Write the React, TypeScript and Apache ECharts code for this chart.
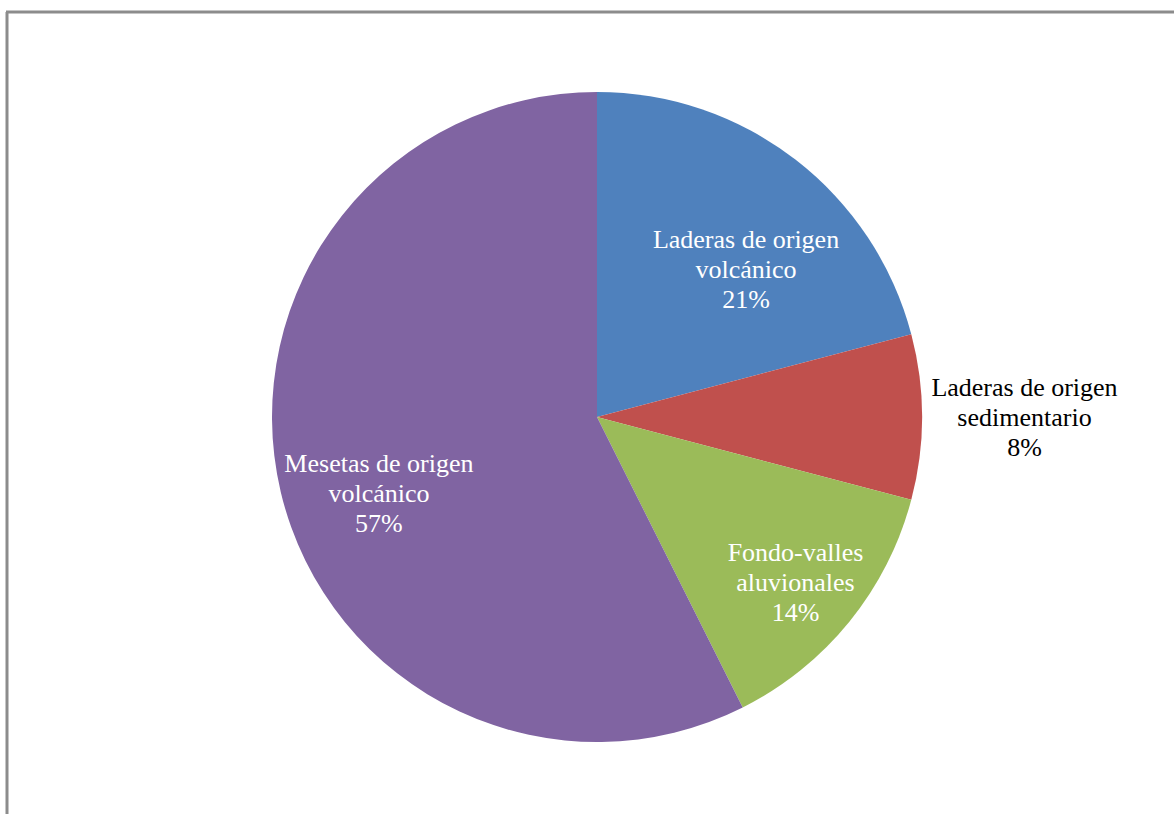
import React, { useEffect, useRef } from "react";
import * as echarts from "echarts";

const categories = [
  "Laderas de origen\nvolcánico",
  "Laderas de origen\nsedimentario",
  "Fondo-valles\naluvionales",
  "Mesetas de origen\nvolcánico",
];
const values = [20.9, 8.2, 13.5, 57.4];
const colors = ["#4F81BD", "#C0504D", "#9BBB59", "#8064A2"];
const labelColors = ["#ffffff", "#000000", "#ffffff", "#ffffff"];
const labelOffsets = [
  [48, -16],
  [262, 0],
  [70, 61],
  [-57, 38],
];

export default function App() {
  const ref = useRef<HTMLDivElement>(null);
  useEffect(() => {
    if (!ref.current) return;
    const chart = echarts.init(ref.current, undefined, { renderer: "svg" });
    chart.setOption({
      animation: false,
      backgroundColor: "#ffffff",
      graphic: [
        {
          type: "line",
          shape: { x1: 7, y1: 12, x2: 7, y2: 814 },
          style: { stroke: "#8c8c8c", lineWidth: 3 },
        },
        {
          type: "line",
          shape: { x1: 6, y1: 12, x2: 1174, y2: 12 },
          style: { stroke: "#8c8c8c", lineWidth: 3 },
        },
      ],
      series: [
        {
          type: "pie",
          center: [597, 417],
          radius: [0, 325],
          startAngle: 90,
          clockwise: true,
          avoidLabelOverlap: false,
          labelLine: { show: false },
          itemStyle: { borderWidth: 0 },
          data: categories.map((name, i) => ({
            name,
            value: values[i],
            itemStyle: { color: colors[i] },
            label: {
              show: true,
              position: "inside",
              offset: labelOffsets[i],
              color: labelColors[i],
            },
          })),
          label: {
            fontFamily: "'Liberation Serif', 'Times New Roman', serif",
            fontSize: 26,
            lineHeight: 30,
            align: "center",
            formatter: (p: any) => `${p.name}\n${Math.round(p.percent)}%`,
          },
        },
      ],
    });
    return () => chart.dispose();
  }, []);
  return (
    <div
      ref={ref}
      style={{ position: "absolute", left: 0, top: 0, width: 1174, height: 814 }}
    />
  );
}
